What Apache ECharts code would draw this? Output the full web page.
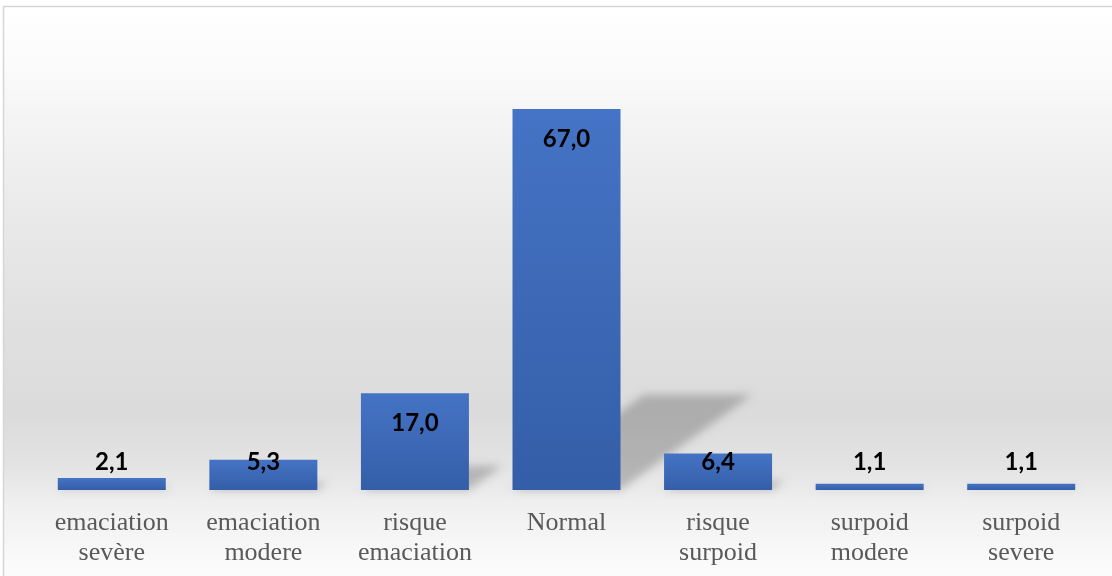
<!DOCTYPE html>
<html>
<head>
<meta charset="utf-8">
<script src="https://cdn.jsdelivr.net/npm/echarts@6/dist/echarts.min.js"></script>
<style>
  html, body { margin: 0; padding: 0; background: #ffffff; }
  #chart { width: 1112px; height: 576px; }
</style>
</head>
<body>
<div id="chart"></div>
<script>
// Nutritional status categories and their share (%)
const categories = [
  'emaciation\nsevère',
  'emaciation\nmodere',
  'risque\nemaciation',
  'Normal',
  'risque\nsurpoid',
  'surpoid\nmodere',
  'surpoid\nsevere'
];
const values = [2.1, 5.3, 17.0, 67.0, 6.4, 1.1, 1.1];

const BAR_W = 108;
// The shape itself is drawn far off to the left; only its blurred
// canvas shadow, shifted back by the same amount, is visible.
const SHIFT = 3000;

const chart = echarts.init(document.getElementById('chart'));

// Soft perspective shadow cast behind each bar, sheared up and to the right
function renderShadow(params, api) {
  const base = api.coord([api.value(0), 0]);
  const top = api.coord([api.value(0), api.value(1)]);
  const H = base[1] - top[1];
  const h = H * 0.25;
  const dx = h * 1.38;
  const l = base[0] - BAR_W / 2 - SHIFT;
  const r = base[0] + BAR_W / 2 - SHIFT;
  return {
    type: 'polygon',
    shape: {
      points: [[l, base[1]], [r, base[1]], [r + dx, base[1] - h], [l + dx, base[1] - h]]
    },
    style: {
      fill: '#000000',
      shadowBlur: 9,
      shadowOffsetX: SHIFT,
      shadowColor: 'rgba(0,0,0,0.21)'
    }
  };
}

const option = {
  animation: false,
  backgroundColor: '#ffffff',
  graphic: [{
    type: 'rect',
    z: -10,
    silent: true,
    shape: { x: 3.5, y: 6.5, width: 1120, height: 580 },
    style: {
      stroke: '#d6d6d6',
      lineWidth: 1.5,
      fill: new echarts.graphic.LinearGradient(0, 0, 0, 1, [
        { offset: 0, color: '#ffffff' },
        { offset: 0.1, color: '#fbfbfb' },
        { offset: 0.2, color: '#f4f4f4' },
        { offset: 0.35, color: '#eaeaea' },
        { offset: 0.55, color: '#e0e0e0' },
        { offset: 0.7, color: '#dbdbdb' },
        { offset: 0.79, color: '#e3e3e3' },
        { offset: 0.86, color: '#f0f0f0' },
        { offset: 0.95, color: '#f9f9f9' },
        { offset: 1, color: '#fdfdfd' }
      ])
    }
  }],
  grid: { left: 36, right: 15, top: 35, bottom: 86 },
  xAxis: {
    type: 'category',
    data: categories,
    axisLine: { show: false },
    axisTick: { show: false },
    axisLabel: {
      interval: 0,
      margin: 18,
      color: '#595959',
      fontFamily: '"Liberation Serif", "Times New Roman", serif',
      fontSize: 26,
      lineHeight: 30,
      verticalAlign: 'top'
    }
  },
  yAxis: {
    type: 'value',
    min: 0,
    max: 80,
    show: false,
    splitLine: { show: false }
  },
  series: [
    {
      type: 'custom',
      renderItem: renderShadow,
      data: values.map((v, i) => [i, v]),
      z: 1,
      silent: true,
      clip: false
    },
    {
      type: 'bar',
      barWidth: BAR_W,
      z: 2,
      itemStyle: {
        color: new echarts.graphic.LinearGradient(0, 0, 0, 1, [
          { offset: 0, color: '#4573c5' },
          { offset: 1, color: '#345ea7' }
        ])
      },
      label: {
        show: true,
        color: '#000000',
        fontFamily: 'Lato, "Liberation Sans", sans-serif',
        fontWeight: 'bold',
        fontSize: 24,
        lineHeight: 26,
        formatter: p => p.value.toFixed(1).replace('.', ',')
      },
      data: values.map(v => ({
        value: v,
        label: v >= 10
          ? { position: 'insideTop', distance: 17 }
          : { position: 'insideBottom', distance: 15 }
      }))
    }
  ]
};

chart.setOption(option);
</script>
</body>
</html>
